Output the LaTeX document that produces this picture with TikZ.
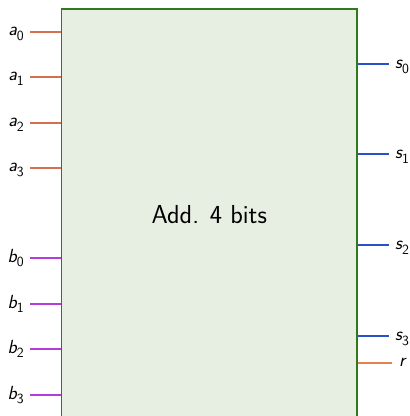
\documentclass[tikz,border=0pt]{standalone}
\usepackage{fontspec}
\definecolor{acol}{RGB}{214,110,80}
\definecolor{bcol}{RGB}{180,60,220}
\definecolor{scol}{RGB}{40,80,200}
\definecolor{rcol}{RGB}{225,130,80}
\definecolor{boxgreen}{RGB}{50,120,30}
\definecolor{boxfill}{RGB}{231,239,226}
\newcommand{\sublbl}[2]{{\itshape #1}\raisebox{-0.22em}{\fontsize{14}{14}\selectfont #2}}
\begin{document}
\begin{tikzpicture}[x=1pt,y=1pt,
  lbl/.style={font=\fontsize{19}{19}\selectfont\sffamily, inner sep=0pt},
  wire/.style={line width=1.2pt}]
\useasboundingbox (0,0) rectangle (410,416);
\clip (0,0) rectangle (410,416);
\node[draw=boxgreen, fill=boxfill, line width=1.2pt, minimum width=295.5pt,
  minimum height=412pt, inner sep=0pt,
  font=\fontsize{26}{26}\selectfont\sffamily] (add) at (209.25,201) {Add. 4 bits};
% a inputs
\foreach \i/\y in {0/384,1/339,2/293,3/248}{
  \coordinate (a\i) at (30,\y);
  \draw[wire,acol] (a\i) -- (a\i -| add.west);
  \node[lbl,anchor=base east] (la\i) at (24,\y-4) {\sublbl{a}{\i}};
}
% b inputs
\foreach \i/\y in {0/158,1/112,2/67,3/21}{
  \coordinate (b\i) at (30,\y);
  \draw[wire,bcol] (b\i) -- (b\i -| add.west);
  \node[lbl,anchor=base east] (lb\i) at (24,\y-4.5) {\sublbl{b}{\i}};
}
% s outputs
\foreach \i/\y in {0/352,1/262,2/171,3/80}{
  \coordinate (s\i) at (389,\y);
  \draw[wire,scol] (s\i -| add.east) -- (s\i);
  \node[lbl,anchor=base west] (ls\i) at (395,\y-5) {\sublbl{s}{\i}};
}
% r output
\coordinate (r) at (392,53);
\draw[wire,rcol] (r -| add.east) -- (r);
\node[lbl,anchor=base west] (lr) at (399,53-4) {\itshape r};
\end{tikzpicture}
\end{document}
